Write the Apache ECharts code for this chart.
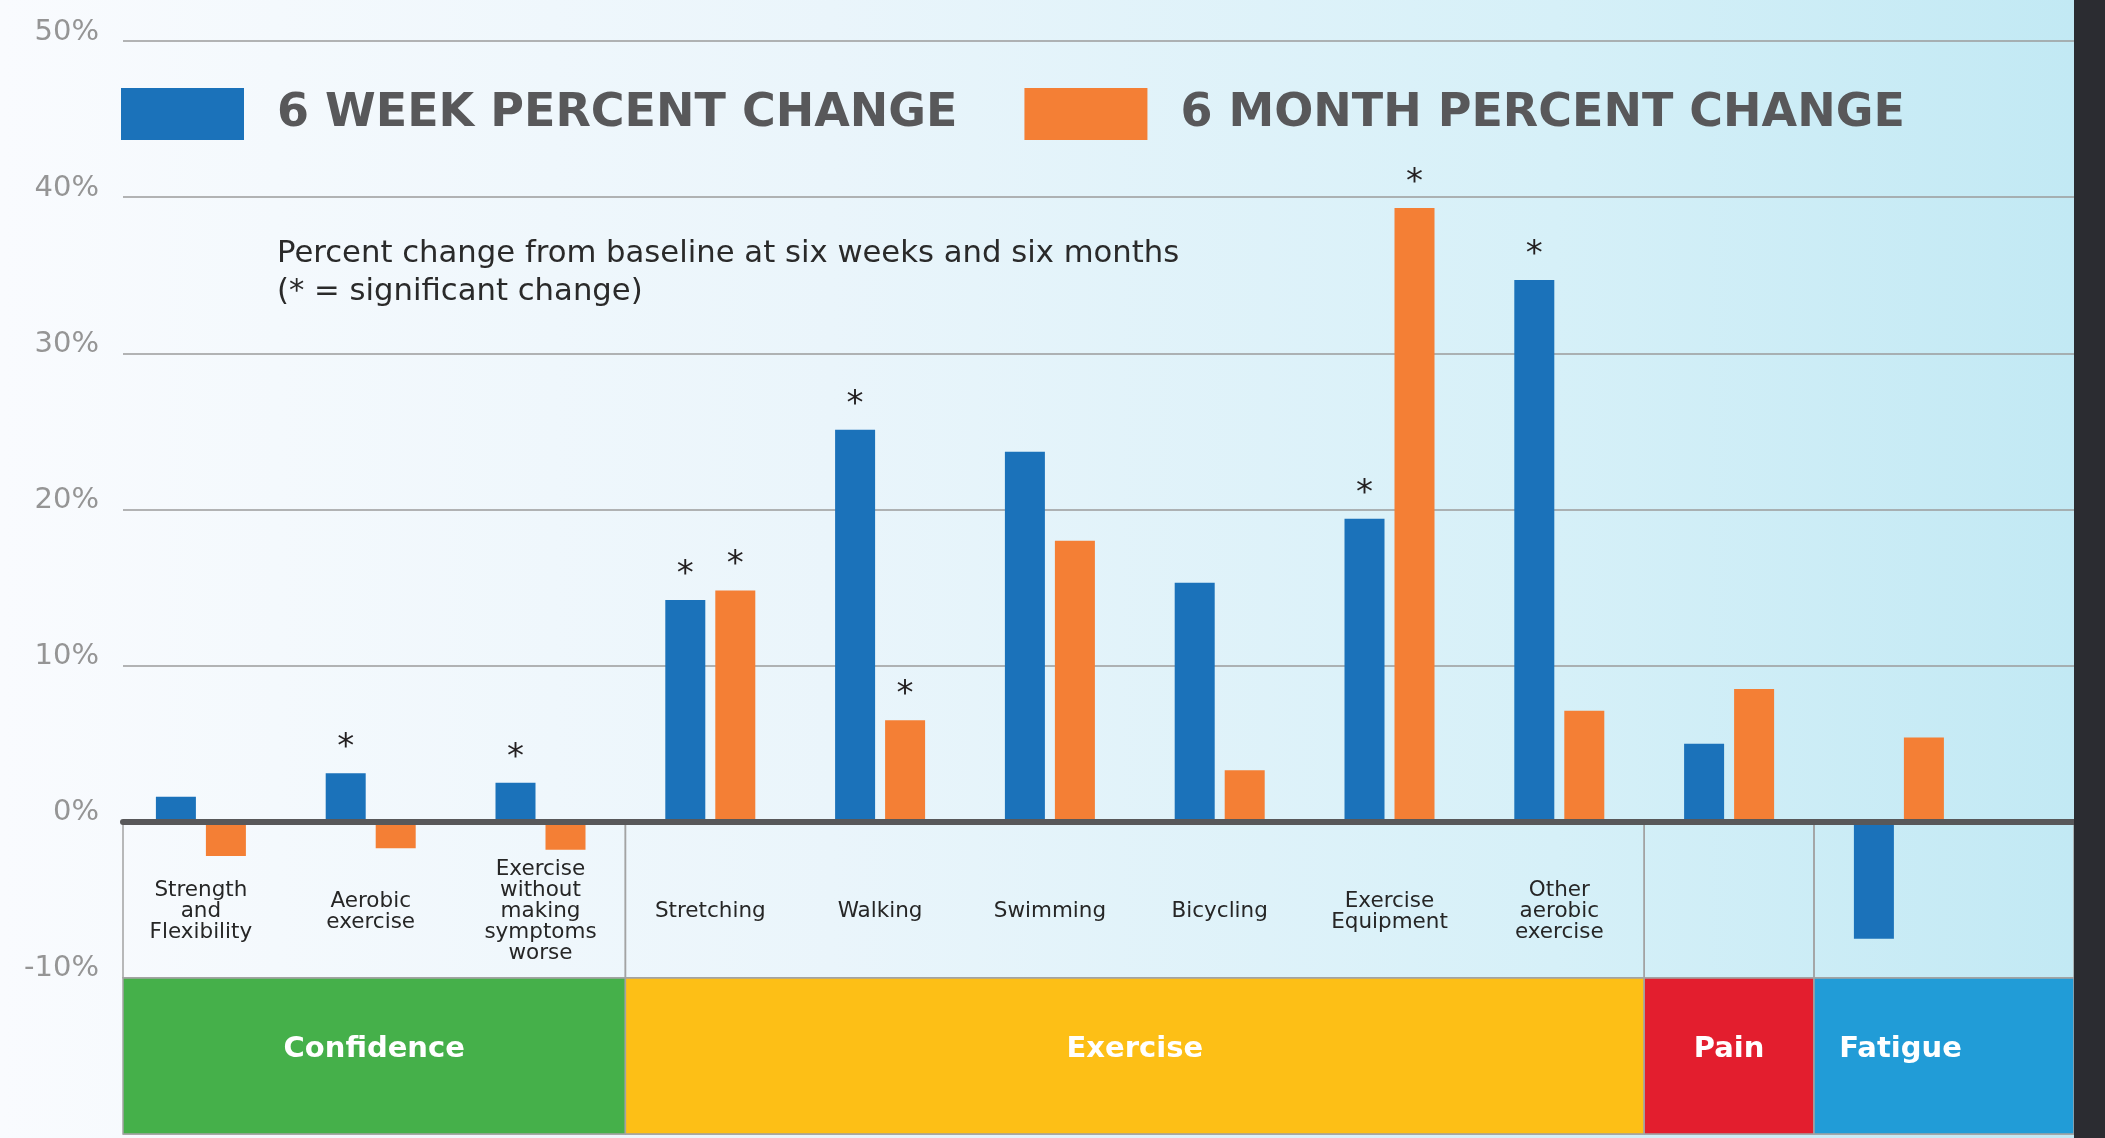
<!DOCTYPE html>
<html>
<head>
<meta charset="utf-8">
<title>Percent change from baseline</title>
<script src="https://cdn.jsdelivr.net/npm/echarts@6/dist/echarts.min.js"></script>
<style>
	html, body {
		margin: 0;
		padding: 0;
		background: #2b2c31;
	}
	#main {
		width: 2074px;
		height: 1138px;
		background: linear-gradient(to right, #f9fbfe 0%, #eaf5fb 40%, #d6f0f8 75%, #c2e9f4 100%);
	}
</style>
</head>
<body>
<div id="main"></div>
<script>
	// data
	var categories = ['Strength\nand\nFlexibility', 'Aerobic\nexercise', 'Exercise\nwithout\nmaking\nsymptoms\nworse',
		'Stretching', 'Walking', 'Swimming', 'Bicycling', 'Exercise\nEquipment', 'Other\naerobic\nexercise', 'Pain', 'Fatigue'];
	var weekChange = [1.6, 3.1, 2.5, 14.2, 25.1, 23.7, 15.3, 19.4, 34.7, 5.0, -7.5];
	var monthChange = [-2.2, -1.7, -1.8, 14.8, 6.5, 18.0, 3.3, 39.3, 7.1, 8.5, 5.4];
	var weekSig = [false, true, true, true, true, false, false, true, true, false, false];
	var monthSig = [false, false, false, true, true, false, false, true, false, false, false];
	var groups = ['Confidence', 'Exercise', 'Pain', 'Fatigue'];
	var groupSizes = [3, 6, 1, 1];
	var seriesNames = ['6 WEEK PERCENT CHANGE', '6 MONTH PERCENT CHANGE'];
	var yMin = -20, yMax = 50, yStep = 10;

	// layout / style
	var font = 'DejaVu Sans';
	var groupColors = ['#45b04a', '#fdbf16', '#e31e2e', '#219cd7'];
	var chartWidth = 2074, chartHeight = 1138;
	var barsLeft = 116, frameLeft = 123, band = 169.8, gridTop = 41, gridBottom = 4;
	// frame grid uses the same units as the category bands
	var frameMin = (frameLeft - barsLeft) / band;
	var frameMax = (chartWidth - barsLeft) / band;
	var plotH = chartHeight - gridTop - gridBottom;
	var zeroY = gridTop + plotH * yMax / (yMax - yMin);
	var labelAxisOffset = zeroY - (chartHeight - gridBottom);

	function sigData(values, sig) {
		return values.map(function(v, i) {
			return { value: v, label: { show: sig[i] } };
		});
	}

	// group boxes under the axis, plus the cells holding the category labels
	var areas = [];
	var start = frameMin;
	var count = 0;
	groups.forEach(function(g, i) {
		count += groupSizes[i];
		var end = i === groups.length - 1 ? frameMax : count;
		var lab = { show: true };
		if (g === 'Fatigue') {
			lab = { show: true, position: 'insideLeft', distance: 26 };
		}
		areas.push([{ name: g, xAxis: start, yAxis: yMin, itemStyle: { color: groupColors[i] }, label: lab },
			{ xAxis: end, yAxis: -10 }]);
		areas.push([{ name: '', xAxis: start, yAxis: -10, itemStyle: { color: 'rgba(0,0,0,0)' }, label: { show: false } },
			{ xAxis: end, yAxis: 0 }]);
		start = end;
	});

	var starLabel = {
		show: false,
		position: 'top',
		distance: 10,
		formatter: '*',
		fontFamily: font,
		fontSize: 34,
		lineHeight: 30,
		color: '#231f20'
	};

	var chart = echarts.init(document.getElementById('main'));
	chart.setOption({
		animation: false,
		textStyle: { fontFamily: font },
		title: {
			text: 'Percent change from baseline at six weeks and six months\n(* = significant change)',
			left: 277,
			top: 235,
			padding: 0,
			textStyle: { fontFamily: font, fontSize: 30.7, fontWeight: 'normal', lineHeight: 38, color: '#2a2a2a' }
		},
		legend: {
			data: seriesNames,
			left: 121,
			top: 88,
			padding: 0,
			icon: 'rect',
			itemWidth: 123,
			itemHeight: 52,
			itemGap: 67,
			selectedMode: false,
			textStyle: { fontFamily: font, fontSize: 46, fontWeight: 'bold', color: '#58585a', padding: [0, 0, 0, 28] }
		},
		grid: [
			{ left: frameLeft, right: 0, top: gridTop, bottom: gridBottom, outerBoundsMode: 'none', containLabel: false },
			{ left: barsLeft, width: band * categories.length, top: gridTop, bottom: gridBottom, outerBoundsMode: 'none', containLabel: false }
		],
		xAxis: [{
			type: 'value',
			gridIndex: 0,
			min: frameMin,
			max: frameMax,
			z: 5,
			axisLine: { show: true, onZero: true, lineStyle: { color: '#58585a', width: 6 } },
			axisTick: { show: false },
			axisLabel: { show: false },
			splitLine: { show: false }
		}, {
			type: 'category',
			gridIndex: 1,
			data: categories,
			position: 'bottom',
			offset: labelAxisOffset,
			axisLine: { show: false, onZero: false },
			axisTick: { show: false },
			axisLabel: {
				interval: 0,
				margin: 90,
				verticalAlign: 'middle',
				fontFamily: font,
				fontSize: 21.5,
				lineHeight: 21,
				color: '#262626',
				formatter: function(v) {
					return groups.indexOf(v) >= 0 ? '' : v;
				}
			}
		}],
		yAxis: [{
			type: 'value',
			gridIndex: 0,
			min: yMin,
			max: yMax,
			interval: yStep,
			axisLine: { show: false },
			axisTick: { show: false },
			axisLabel: {
				margin: 24,
				fontFamily: font,
				fontSize: 29,
				lineHeight: 18,
				verticalAlign: 'bottom',
				color: '#959595',
				formatter: function(v) {
					return v === yMin ? '' : v + '%';
				}
			},
			splitLine: { lineStyle: { color: '#9b9b9b', width: 1.5 } }
		}, {
			type: 'value',
			gridIndex: 1,
			min: yMin,
			max: yMax,
			interval: yStep,
			show: false,
			splitLine: { show: false }
		}],
		series: [{
			name: seriesNames[0],
			type: 'bar',
			xAxisIndex: 1,
			yAxisIndex: 1,
			barWidth: 40,
			barGap: '25%',
			itemStyle: { color: '#1b72ba' },
			label: starLabel,
			data: sigData(weekChange, weekSig)
		}, {
			name: seriesNames[1],
			type: 'bar',
			xAxisIndex: 1,
			yAxisIndex: 1,
			barWidth: 40,
			barGap: '25%',
			itemStyle: { color: '#f47f35' },
			label: starLabel,
			data: sigData(monthChange, monthSig)
		}, {
			name: 'groups',
			type: 'scatter',
			xAxisIndex: 0,
			yAxisIndex: 0,
			symbolSize: 0,
			data: [],
			markArea: {
				silent: true,
				itemStyle: { borderColor: '#a3a3a3', borderWidth: 1.5 },
				label: {
					position: 'inside',
					color: '#ffffff',
					fontFamily: font,
					fontSize: 29,
					fontWeight: 'bold',
					offset: [0, -6]
				},
				emphasis: { disabled: true },
				data: areas
			}
		}]
	});
</script>
</body>
</html>
